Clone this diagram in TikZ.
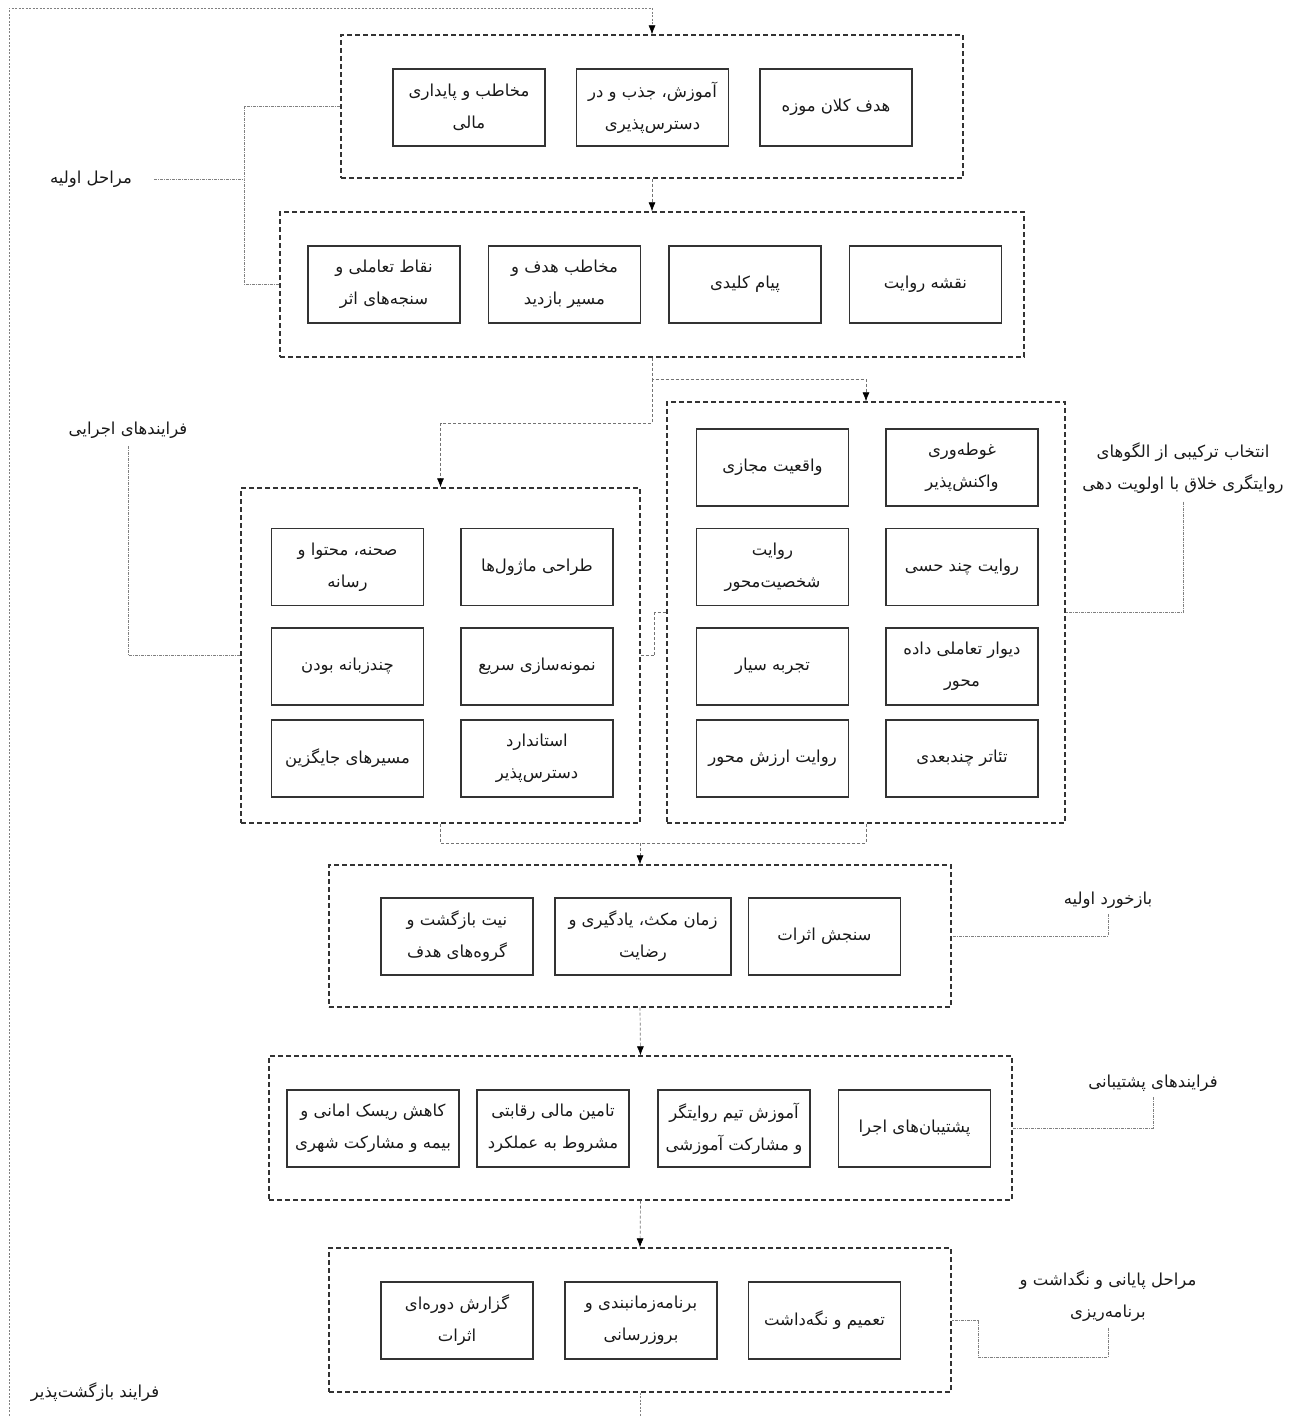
\documentclass[tikz,border=0pt]{standalone}
\usepackage{fontspec}
\newfontfamily\fa[Script=Arabic]{DejaVu Sans}
\TeXXeTstate=1
\usetikzlibrary{arrows.meta,calc}
\newcommand\rl[1]{\beginR #1\endR}
\tikzset{
  grp/.style={draw=black!80, line width=1.3pt, dash pattern=on 5pt off 3pt, minimum width=#1, inner sep=0pt},
  bx/.style={draw=black!80, line width=1.6pt, minimum height=77pt, minimum width=#1, inner sep=0pt, align=center,
     font=\fa\fontsize{16.5}{32}\selectfont, text=black!90},
  bx/.default=152pt,
  lbl/.style={align=center, font=\fa\fontsize{16.5}{32}\selectfont, text=black!90, inner sep=2pt},
  flow/.style={draw=black!55, line width=0.7pt, dash pattern=on 3pt off 2pt, -{Latex[length=9pt,width=7pt,black]}},
  dline/.style={draw=black!55, line width=0.7pt, dash pattern=on 3pt off 2pt},
  lline/.style={draw=black!50, line width=0.6pt, dash pattern=on 3pt off 1pt on 1pt off 1pt},
  loopl/.style={draw=black!50, line width=0.6pt, dash pattern=on 2pt off 1.5pt},
}
\begin{document}
\begin{tikzpicture}[x=1pt,y=-1pt]
\useasboundingbox (0,0) rectangle (1297,1416);
% group 1
\node[grp=622pt, minimum height=143pt] (g1) at (652,106.5) {};
\node[bx] (b11) at (836,107.5) {\rl{هدف کلان موزه}};
\node[bx] (b12) at (652.5,107.5) {\rl{آموزش، جذب و در}\\\rl{دسترس^^^^200cپذیری}};
\node[bx] (b13) at (469,107.5) {\rl{مخاطب و پایداری}\\\rl{مالی}};
% group 2
\node[grp=744pt, minimum height=145pt] (g2) at (652,284.5) {};
\node[bx] (b21) at (925.5,284.5) {\rl{نقشه روایت}};
\node[bx] (b22) at (745,284.5) {\rl{پیام کلیدی}};
\node[bx] (b23) at (564.5,284.5) {\rl{مخاطب هدف و}\\\rl{مسیر بازدید}};
\node[bx] (b24) at (384,284.5) {\rl{نقاط تعاملی و}\\\rl{سنجه^^^^200cهای اثر}};
% right group
\node[grp=398pt, minimum height=421pt] (gR) at (866,612.5) {};
\node[bx] (r11) at (962,467.5) {\rl{غوطه^^^^200cوری}\\\rl{واکنش^^^^200cپذیر}};
\node[bx] (r12) at (772.5,467.5) {\rl{واقعیت مجازی}};
\node[bx] (r21) at (962,567) {\rl{روایت چند حسی}};
\node[bx] (r22) at (772.5,567) {\rl{روایت}\\\rl{شخصیت^^^^200cمحور}};
\node[bx] (r31) at (962,666.5) {\rl{دیوار تعاملی داده}\\\rl{محور}};
\node[bx] (r32) at (772.5,666.5) {\rl{تجربه سیار}};
\node[bx] (r41) at (962,758.5) {\rl{تئاتر چندبعدی}};
\node[bx] (r42) at (772.5,758.5) {\rl{روایت ارزش محور}};
% left group
\node[grp=399pt, minimum height=335pt] (gL) at (440.5,655.5) {};
\node[bx] (l11) at (537,567) {\rl{طراحی ماژول^^^^200cها}};
\node[bx] (l12) at (347.5,567) {\rl{صحنه، محتوا و}\\\rl{رسانه}};
\node[bx] (l21) at (537,666.5) {\rl{نمونه^^^^200cسازی سریع}};
\node[bx] (l22) at (347.5,666.5) {\rl{چندزبانه بودن}};
\node[bx] (l31) at (537,758.5) {\rl{استاندارد}\\\rl{دسترس^^^^200cپذیر}};
\node[bx] (l32) at (347.5,758.5) {\rl{مسیرهای جایگزین}};
% feedback group
\node[grp=622pt, minimum height=142pt] (gF) at (640,936) {};
\node[bx] (f1) at (824.5,936.5) {\rl{سنجش اثرات}};
\node[bx=176pt] (f2) at (643,936.5) {\rl{زمان مکث، یادگیری و}\\\rl{رضایت}};
\node[bx] (f3) at (457,936.5) {\rl{نیت بازگشت و}\\\rl{گروه^^^^200cهای هدف}};
% support group
\node[grp=743pt, minimum height=144pt] (gS) at (640.5,1128) {};
\node[bx] (s1) at (914.5,1128.5) {\rl{پشتیبان^^^^200cهای اجرا}};
\node[bx] (s2) at (734,1128.5) {\rl{آموزش تیم روایتگر}\\\rl{و مشارکت آموزشی}};
\node[bx] (s3) at (553,1128.5) {\rl{تامین مالی رقابتی}\\\rl{مشروط به عملکرد}};
\node[bx=172pt] (s4) at (373,1128.5) {\rl{کاهش ریسک امانی و}\\\rl{بیمه و مشارکت شهری}};
% final group
\node[grp=622pt, minimum height=144pt] (g7) at (640,1320) {};
\node[bx] (e1) at (824.5,1320.5) {\rl{تعمیم و نگه^^^^200cداشت}};
\node[bx] (e2) at (641,1320.5) {\rl{برنامه^^^^200cزمانبندی و}\\\rl{بروزرسانی}};
\node[bx] (e3) at (457,1320.5) {\rl{گزارش دوره^^^^200cای}\\\rl{اثرات}};
% labels
\node[lbl] (t1) at (91,179) {\rl{مراحل اولیه}};
\node[lbl] (t2) at (128,430) {\rl{فرایندهای اجرایی}};
\node[lbl] (t3) at (1183,468) {\rl{انتخاب ترکیبی از الگوهای}\\\rl{روایتگری خلاق با اولویت دهی}};
\node[lbl] (t4) at (1108,900) {\rl{بازخورد اولیه}};
\node[lbl] (t5) at (1153,1083) {\rl{فرایندهای پشتیبانی}};
\node[lbl] (t6) at (1108,1296) {\rl{مراحل پایانی و نگداشت و}\\\rl{برنامه^^^^200cریزی}};
\node[lbl] (t7) at (95,1392) {\rl{فرایند بازگشت^^^^200cپذیر}};
% coordinates
\coordinate (br) at (244,179);
\coordinate (s0) at (652,379);
\coordinate (s0b) at (652,423);
\coordinate (m0) at (640,843);
\coordinate (c7) at (978,1357);
\coordinate (lpA) at (640,1430);
\coordinate (lpB) at (9,1430);
\coordinate (lpC) at (9,8);
% flow connectors
\draw[flow] (g1.south) -- (g2.north);
\draw[flow] (g2.south) -- (s0) -| (gR.north);
\draw[flow] (s0) -- (s0b) -| (gL.north);
\draw[dline] (gL.south) |- (m0);
\draw[dline] (gR.south) |- (m0);
\draw[flow] (m0) -- (gF.north);
\draw[flow] (gF.south) -- (gS.north);
\draw[flow] (gS.south) -- (g7.north);
\draw[dline] (gL.east) -- ++(14,0) |- (gR.west);
% loop
\draw[loopl, -{Latex[length=9pt,width=7pt,black]}] (g7.south) -- (lpA) -- (lpB) -- (lpC) -| (g1.north);
% label connectors
\draw[lline, shorten <=20pt] (t1.east) -- (br);
\draw[lline] (g1.west) -| (br) |- (g2.west);
\draw[lline, shorten <=6pt] (t2.south) |- (gL.west);
\draw[lline, shorten <=6pt] (t3.south) |- (gR.east);
\draw[lline, shorten <=4pt] (t4.south) |- (gF.east);
\draw[lline, shorten <=4pt] (t5.south) |- (gS.east);
\draw[lline, shorten <=4pt] (t6.south) |- (c7) |- (g7.east);
\end{tikzpicture}
\end{document}
